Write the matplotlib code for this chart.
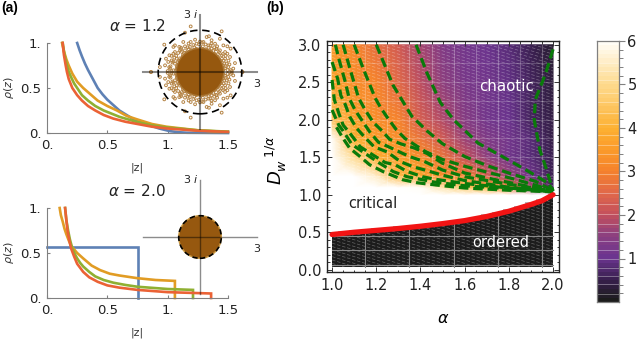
import numpy as np
import matplotlib
matplotlib.use('Agg')
import matplotlib.pyplot as plt
from matplotlib.colors import LinearSegmentedColormap
from matplotlib.patches import Circle, Rectangle

W, H = 640, 340

# panel (a) densities, alpha = 1.2
top_blue_x = [.25, .27, .29, .315, .34, .38, .42, .46, .50, .55, .60, .66, .72, .78, .85, .93, 1.02, 1.1, 1.16, 1.5]
top_blue_y = [1, .92, .85, .77, .70, .60, .50, .43, .37, .31, .25, .20, .15, .115, .085, .05, .02, .008, .003, 0]
top_orange_x = [.125, .14, .16, .18, .21, .25, .30, .36, .42, .50, .58, .66, .75, .87, .99, 1.25, 1.49]
top_orange_y = [1, .91, .82, .75, .66, .57, .50, .43, .36, .30, .25, .19, .15, .10, .07, .03, .012]
top_green_x = [.13, .145, .165, .18, .20, .225, .25, .29, .34, .40, .47, .60, .75, .87, 1.0, 1.25, 1.5]
top_green_y = [1, .87, .75, .68, .62, .55, .50, .42, .36, .30, .25, .18, .12, .085, .06, .03, .015]
top_red_x = [.13, .14, .155, .165, .18, .195, .21, .25, .29, .34, .40, .47, .55, .65, .75, .87, 1.0, 1.25, 1.5]
top_red_y = [1, .87, .75, .68, .60, .55, .50, .42, .36, .30, .25, .20, .16, .125, .10, .07, .05, .025, .012]

# panel (a) densities, alpha = 2.0
bot_blue_x = [0.0, 0.75, 0.75]
bot_blue_y = [0.567, 0.567, 0.0]
bot_orange_x = [.105, .115, .13, .145, .16, .18, .2, .225, .25, .3, .37, .44, .52, .6, .75, .9, 1.06, 1.06]
bot_orange_y = [1, .92, .85, .77, .71, .64, .58, .54, .5, .44, .36, .31, .27, .25, .22, .2, .19, 0]
bot_green_x = [.15, .16, .175, .19, .21, .23, .25, .275, .3, .35, .4, .47, .55, .65, .75, .9, 1.0, 1.21, 1.21]
bot_green_y = [1, .87, .75, .65, .55, .49, .44, .39, .35, .29, .24, .2, .17, .145, .125, .11, .1, .09, 0]
bot_red_x = [.15, .16, .17, .185, .2, .225, .25, .3, .35, .42, .5, .6, .75, .9, 1, 1.36, 1.36]
bot_red_y = [1, .87, .75, .64, .55, .46, .38, .29, .23, .18, .14, .115, .09, .075, .065, .05, 0]

# eigenvalues outside the dense core, upper half plane
eig_x = [-.49, 1.14, -1.88, -2.58, 2.23, -.79, .47, .35, .61, 1.05, -.88, -1.32, -1.40, -.49, -.26, .18, .79,
         1.23, 1.44, 1.61, -1.61, -1.79, -1.67, -1.40, -1.09, -.79, 1.44, 1.58, 1.84, 1.75, 1.67, -2.11, -1.84,
         -1.58, -1.40, -1.23, -1.05, 1.05, 1.32, 1.40, 1.49, 1.14, .88, -1.23, -1.32, -1.14, -.96, -1.49, 1.32,
         -.79, -.53, -.18, .44, .61, -1.32, -1.18, -1.05, -.9, -.7, -.45, -.2, .05, .3, .55, .78, .95, 1.1, 1.2,
         1.22, -1.25, -1.22, -1.1, -.85, -.6, -.3, .15, .45, .7, .95, 1.15, 1.28, 1.32,
         -1.55, -1.45, -1.35, -1.5, -1.4, -1.25, -1.15, -1.0, -.95, -.65, -.35, -.05, .1, .3, .55, .75, .85, 1.0,
         1.2, 1.35, 1.5, 1.55, 1.62, 1.45, 1.35, 1.25, -1.62, -1.7, -1.5, -1.0, -.6, .0, .6, .9]
eig_y = [2.40, 2.14, 1.44, 0.0, 0.0, 2.07, 1.88, 1.84, 1.67, 1.75, 1.58, 1.40, 1.32, 1.58, 1.70, 1.58, 1.49,
         1.40, 1.35, 1.23, .88, .70, .53, .96, 1.32, 1.35, .96, .79, .47, .18, .04, .26, .35,
         .18, .09, .18, 1.14, 1.14, .70, .44, .26, .88, 1.23, .70, .44, .35, .61, .61, 1.05,
         1.14, 1.32, 1.49, 1.40, 1.23, 1.05, .52, .72, .88, 1.02, 1.15, 1.22, 1.24, 1.2, 1.1, .95, .78, .58, .35,
         .12, .1, .3, .6, 1.0, 1.2, 1.3, 1.35, 1.28, 1.1, .95, .7, .45, .2,
         .3, .5, .75, .85, .55, .85, 1.0, 1.2, 1.05, 1.3, 1.42, 1.45, 1.55, 1.45, 1.4, 1.3, 1.2, 1.05,
         .95, .85, .6, .4, .1, .1, .3, .6, .25, .05, .05, 1.28, 1.5, 1.6, 1.5, 1.35]

# panel (b) heat map
grid_alpha = [1.0, 1.1, 1.2, 1.3, 1.4, 1.5, 1.6, 1.7, 1.8, 1.9, 2.0]
grid_d = [1.0, 1.1, 1.25, 1.5, 1.75, 2.0, 2.5, 3.0]
grid_val = [[9.0, 9.0, 9.0, 9.0, 9.0, 9.0, 9.0, 9.0, 9.0, 9.0, 9.0],
            [9.0, 9.0, 8.0, 7.0, 6.0, 5.2, 4.5, 4.0, 3.0, 1.8, 0.7],
            [9.0, 7.0, 5.5, 4.2, 3.7, 3.3, 3.0, 2.3, 1.6, 1.1, 0.6],
            [8.0, 5.0, 3.9, 3.5, 3.2, 2.7, 2.0, 1.55, 1.2, 0.85, 0.5],
            [6.0, 3.9, 3.5, 3.2, 2.8, 2.2, 1.65, 1.35, 1.1, 0.8, 0.45],
            [4.4, 3.6, 3.3, 3.0, 2.4, 1.8, 1.45, 1.2, 1.0, 0.7, 0.4],
            [3.7, 3.3, 3.0, 2.5, 1.95, 1.5, 1.25, 1.1, 0.9, 0.65, 0.35],
            [3.4, 3.1, 2.6, 2.2, 1.7, 1.35, 1.2, 1.05, 0.85, 0.6, 0.3]]

# ordered region, stair tops every 0.05 in alpha
ordered_alpha = [1.0, 1.05, 1.1, 1.15, 1.2, 1.25, 1.3, 1.35, 1.4, 1.45, 1.5, 1.55, 1.6, 1.65, 1.7, 1.75, 1.8, 1.85,
                 1.9, 1.95, 2.0]
ordered_top = [.47, .49, .50, .50, .53, .53, .55, .55, .57, .58, .60, .62, .65, .67, .71, .74, .78, .82, .87, .92,
               1.0]

# critical line
crit_alpha = [1.0, 1.1, 1.2, 1.3, 1.4, 1.5, 1.6, 1.7, 1.8, 1.9, 1.95, 2.0]
crit_d = [.47, .50, .525, .55, .58, .615, .655, .71, .78, .87, .92, 1.0]

# contour lines
c1_a = [2.0, 1.967, 1.92, 1.915, 1.94, 1.97, 2.0]
c1_d = [2.94, 2.62, 2.27, 2.0, 1.6, 1.34, 1.05]
c2_a = [1.38, 1.43, 1.49, 1.55, 1.66, 1.77, 1.89, 1.98, 2.0]
c2_d = [3.0, 2.62, 2.23, 2.0, 1.69, 1.51, 1.31, 1.15, 1.05]
c3_a = [1.2, 1.276, 1.36, 1.43, 1.50, 1.60, 1.70, 1.81, 1.92, 2.0]
c3_d = [3.0, 2.46, 2.05, 1.85, 1.68, 1.51, 1.39, 1.28, 1.18, 1.05]
c4_a = [1.10, 1.14, 1.195, 1.22, 1.25, 1.29, 1.33, 1.42, 1.50, 1.60, 1.69, 1.81, 1.93, 2.0]
c4_d = [3.0, 2.69, 2.29, 2.16, 2.03, 1.87, 1.75, 1.58, 1.47, 1.38, 1.31, 1.22, 1.12, 1.05]
c5_a = [1.05, 1.08, 1.12, 1.15, 1.185, 1.23, 1.26, 1.31, 1.375, 1.43, 1.5, 1.6, 1.74, 1.89, 2.0]
c5_d = [3.0, 2.69, 2.29, 2.13, 1.97, 1.84, 1.74, 1.68, 1.62, 1.55, 1.42, 1.29, 1.20, 1.11, 1.05]
c6_a = [1.015, 1.03, 1.06, 1.077, 1.104, 1.14, 1.17, 1.21, 1.27, 1.32, 1.36, 1.42, 1.5, 1.6, 1.8, 2.0]
c6_d = [3.0, 2.82, 2.5, 2.29, 2.13, 1.97, 1.84, 1.70, 1.62, 1.55, 1.50, 1.44, 1.33, 1.24, 1.14, 1.05]
c7_a = [1.0, 1.025, 1.04, 1.06, 1.08, 1.11, 1.15, 1.19, 1.25, 1.31, 1.37, 1.42, 1.5, 1.6, 1.8, 2.0]
c7_d = [2.77, 2.55, 2.32, 2.2, 2.04, 1.89, 1.76, 1.64, 1.57, 1.44, 1.37, 1.33, 1.26, 1.19, 1.10, 1.04]
c8_a = [1.0, 1.01, 1.03, 1.05, 1.086, 1.127, 1.185, 1.24, 1.285, 1.34, 1.41, 1.46, 1.6, 1.8, 2.0]
c8_d = [2.53, 2.27, 2.09, 1.93, 1.8, 1.64, 1.53, 1.43, 1.4, 1.31, 1.24, 1.21, 1.15, 1.09, 1.04]
c9_a = [1.0, 1.03, 1.05, 1.09, 1.16, 1.21, 1.276, 1.34, 1.41, 1.46, 1.6, 1.8, 2.0]
c9_d = [2.13, 1.93, 1.85, 1.67, 1.53, 1.43, 1.31, 1.24, 1.2, 1.17, 1.12, 1.08, 1.04]
c10_a = [1.02, 1.05, 1.08, 1.118, 1.17, 1.23, 1.32, 1.385, 1.47, 1.6, 1.8, 2.0]
c10_d = [1.9, 1.75, 1.62, 1.53, 1.40, 1.31, 1.2, 1.16, 1.13, 1.09, 1.06, 1.04]
contours = [(c1_a, c1_d), (c2_a, c2_d), (c3_a, c3_d), (c4_a, c4_d), (c5_a, c5_d), (c6_a, c6_d), (c7_a, c7_d),
            (c8_a, c8_d), (c9_a, c9_d), (c10_a, c10_d)]

# colour scale
cmap_vals = [0.0, 0.5, 1.0, 1.5, 2.0, 2.5, 3.0, 3.5, 4.0, 5.0, 6.0]
cmap_cols = ['#1c1c1c', '#3a2050', '#6b3590', '#8b3f80', '#c4505c', '#e0684a', '#f5822c', '#fb9a2a', '#fdb032',
             '#fed98a', '#fffdf6']
cbar_lines = [0.18, 0.42, 0.6, 0.78, 1.0, 1.2, 1.4, 1.62, 1.8, 2.02, 2.25, 2.5, 2.72, 2.95, 3.2, 3.4, 3.62, 3.85,
              4.1, 4.35, 4.6, 4.8, 5.1, 5.3, 5.5]

blue, orange, green, red = '#5E81B5', '#E19C24', '#8FB032', '#EB6235'
brown = '#96580f'
gray = '#808080'


def px_axes(fig, left, top, right, bottom, **kw):
    return fig.add_axes([left / W, 1 - bottom / H, (right - left) / W, (bottom - top) / H], **kw)


def density_axes(fig, top, bottom, curves):
    ax = px_axes(fig, 47, top, 228, bottom)
    for x, y, c in curves:
        ax.plot(x, y, color=c, lw=1.9, clip_on=False, solid_joinstyle='miter')
    ax.set_xlim(0, 1.5)
    ax.set_ylim(0, 1)
    ax.set_xticks([0, 0.5, 1, 1.5], ['0.', '0.5', '1.', '1.5'])
    ax.set_yticks([0, 0.5, 1], ['0.', '0.5', '1.'])
    ax.tick_params(colors=gray, labelcolor='#222222', labelsize=9.5, length=2, width=0.8, direction='in', pad=4)
    ax.spines[['top', 'right']].set_visible(False)
    ax.spines[['left', 'bottom']].set_color(gray)
    ax.patch.set_alpha(0)
    ax.set_ylabel(r'$\rho(z)$', fontsize=8, color='#333333', labelpad=3)
    ax.set_xlabel('|z|', fontsize=8, color='#333333', labelpad=8)
    return ax


def inset_axes(fig, cy, lw):
    ax = px_axes(fig, 143, cy - 57, 257, cy + 57)
    ax.set_xlim(-3, 3)
    ax.set_ylim(-3, 3)
    ax.patch.set_alpha(0)
    ax.set_xticks([])
    ax.set_yticks([])
    ax.spines[['top', 'right']].set_visible(False)
    for s in ['left', 'bottom']:
        ax.spines[s].set_position('zero')
        ax.spines[s].set_color((0, 0, 0, 0.45))
        ax.spines[s].set_linewidth(lw)
        ax.spines[s].set_zorder(6)
    ax.text(3.0, -0.35, '3', fontsize=8, color='#222222', ha='center', va='top')
    ax.text(-0.5, 3.05, r'3 $\mathit{i}$', fontsize=8, color='#222222', ha='center', va='center')
    ax.set_aspect('equal')
    return ax


fig = plt.figure(figsize=(W / 100, H / 100), dpi=100)

density_axes(fig, 43, 133, [(top_blue_x, top_blue_y, blue), (top_orange_x, top_orange_y, orange),
                            (top_green_x, top_green_y, green), (top_red_x, top_red_y, red)])
density_axes(fig, 208, 298, [(bot_blue_x, bot_blue_y, blue), (bot_orange_x, bot_orange_y, orange),
                             (bot_green_x, bot_green_y, green), (bot_red_x, bot_red_y, red)])

ins1 = inset_axes(fig, 72, 1.5)
ex = np.array(eig_x)
ey = np.array(eig_y)
ins1.scatter(np.r_[ex, ex], np.r_[ey, -ey], s=4, facecolors='none', edgecolors='#b58445', linewidths=0.7, zorder=2)
ins1.add_patch(Circle((0, 0), 1.25, fc=brown, ec='#a87432', lw=1.0, zorder=3))
ins1.add_patch(Circle((0, 0), 2.2, fc='none', ec='black', lw=1.2, ls=(0, (4.5, 2.8)), zorder=4))

ins2 = inset_axes(fig, 237, 1.0)
ins2.add_patch(Circle((0, 0), 1.12, fc=brown, ec='#c8963f', lw=1.0, zorder=3))
ins2.add_patch(Circle((0, 0), 1.12, fc='none', ec='black', lw=1.2, ls=(0, (3.2, 2.2)), zorder=4))

fig.text(137 / W, 1 - 26 / H, r'$\alpha$ = 1.2', fontsize=11, ha='center', va='center', color='#222222')
fig.text(137 / W, 1 - 191 / H, r'$\alpha$ = 2.0', fontsize=11, ha='center', va='center', color='#222222')
fig.text(1 / W, 1 - 8 / H, '(a)', fontsize=10, fontweight='bold', va='center', family='Liberation Sans')
fig.text(266 / W, 1 - 8 / H, '(b)', fontsize=10, fontweight='bold', va='center', family='Liberation Sans')

# panel (b)
stops = [(v / 6.0, c) for v, c in zip(cmap_vals, cmap_cols)]
cmap = LinearSegmentedColormap.from_list('phase', stops, N=60)
cmap.set_over('white')

ax = px_axes(fig, 327, 41, 559, 272)
ax.pcolormesh(grid_alpha, grid_d, np.array(grid_val), cmap=cmap, vmin=0, vmax=6, shading='gouraud', zorder=1)

oa = np.array(ordered_alpha)
ot = np.array(ordered_top)
ax.fill_between(oa, 0.04, ot + 0.03, step='mid', color='#b8b8b8', lw=0, zorder=3)
ax.fill_between(oa, 0.04, ot, step='mid', color='#1c1c1c', lw=0, zorder=3)

# print texture of the map: shallow white dashes and the cell grid
texture = Rectangle((1.0, 0.04), 1.0, 2.96, transform=ax.transData)
for d0 in np.arange(0.04, 3.95, 0.045):
    ln, = ax.plot([1.0, 2.0], [d0, d0 - 0.9], color='white', alpha=0.32, lw=0.5, ls=(0, (5, 2.5)), zorder=3.5)
    ln.set_clip_path(texture)
for a in [1.15, 1.25, 1.35, 1.45, 1.55, 1.65, 1.75, 1.85, 1.95]:
    ax.plot([a, a], [1.1, 3.0], color='white', alpha=0.25, lw=0.8, zorder=3.6)
for d in [1.25, 1.5, 1.75, 2.0, 2.25, 2.5, 2.75]:
    ax.plot([1.0, 2.0], [d, d], color='white', alpha=0.2, lw=0.8, zorder=3.6)
for a in [1.15, 1.35, 1.55, 1.75, 1.95]:
    ax.plot([a, a], [0.04, ot[np.argmin(abs(oa - a))]], color='#888888', lw=0.8, zorder=3.6)
for d in [0.07, 0.27, 0.45]:
    ax.plot([1.0, 2.0], [d, d], color='#888888', lw=0.8, zorder=3.6)

for a, d in contours:
    ax.plot(a, d, color='#0a7a0a', lw=2.3, ls=(0, (3.0, 1.5)), zorder=4)
ax.plot(crit_alpha, crit_d, color='#f21414', lw=3.8, zorder=5, solid_capstyle='round')

ax.text(1.79, 2.44, 'chaotic', color='white', fontsize=10.8, ha='center', va='center', zorder=6)
ax.text(1.185, 0.89, 'critical', color='#222222', fontsize=10.5, ha='center', va='center', zorder=6)
ax.text(1.765, 0.36, 'ordered', color='white', fontsize=10.5, ha='center', va='center', zorder=6)

ax.set_xlim(0.977, 2.027)
ax.set_ylim(-0.03, 3.05)
ax.set_xticks([1.0, 1.2, 1.4, 1.6, 1.8, 2.0])
ax.set_yticks([0.0, 0.5, 1.0, 1.5, 2.0, 2.5, 3.0])
ax.set_xticks(np.arange(1.0, 2.01, 0.05), minor=True)
ax.set_yticks(np.arange(0.0, 3.01, 0.1), minor=True)
ax.tick_params(which='both', direction='in', top=True, right=True, color='#333333', width=0.7, zorder=7)
ax.tick_params(which='major', length=3.5, labelsize=10.5, labelcolor='#222222', pad=4)
ax.tick_params(which='minor', length=1.8)
for s in ax.spines.values():
    s.set_linewidth(1.0)
    s.set_color('#222222')
ax.set_xlabel(r'$\alpha$', fontsize=11.5, labelpad=13)
ax.set_ylabel(r'$D_w^{\ \ \ 1/\alpha}$', fontsize=13)
ax.yaxis.set_label_coords(-0.165, 0.485)

# colour bar
cax = px_axes(fig, 597, 41, 619, 302)
levels = np.linspace(0, 6, 61)
cax.pcolormesh([0, 1], levels, levels[:-1].reshape(-1, 1) + 0.05, cmap=cmap, vmin=0, vmax=6)
for v in cbar_lines:
    cax.plot([0, 1], [v, v], color='white', alpha=0.35, lw=0.7)
cax.set_xlim(0, 1)
cax.set_ylim(0, 6)
cax.set_xticks([])
cax.yaxis.tick_right()
cax.set_yticks([1, 2, 3, 4, 5, 6])
cax.set_yticks(np.arange(0.2, 6.0, 0.2), minor=True)
cax.tick_params(which='major', direction='out', length=4, color=gray, labelsize=10.5, labelcolor='#222222', pad=2)
cax.tick_params(which='minor', direction='out', length=3, color=gray, width=0.7)
for s in cax.spines.values():
    s.set_color(gray)
    s.set_linewidth(0.9)

fig.savefig('out.png', dpi=100)
